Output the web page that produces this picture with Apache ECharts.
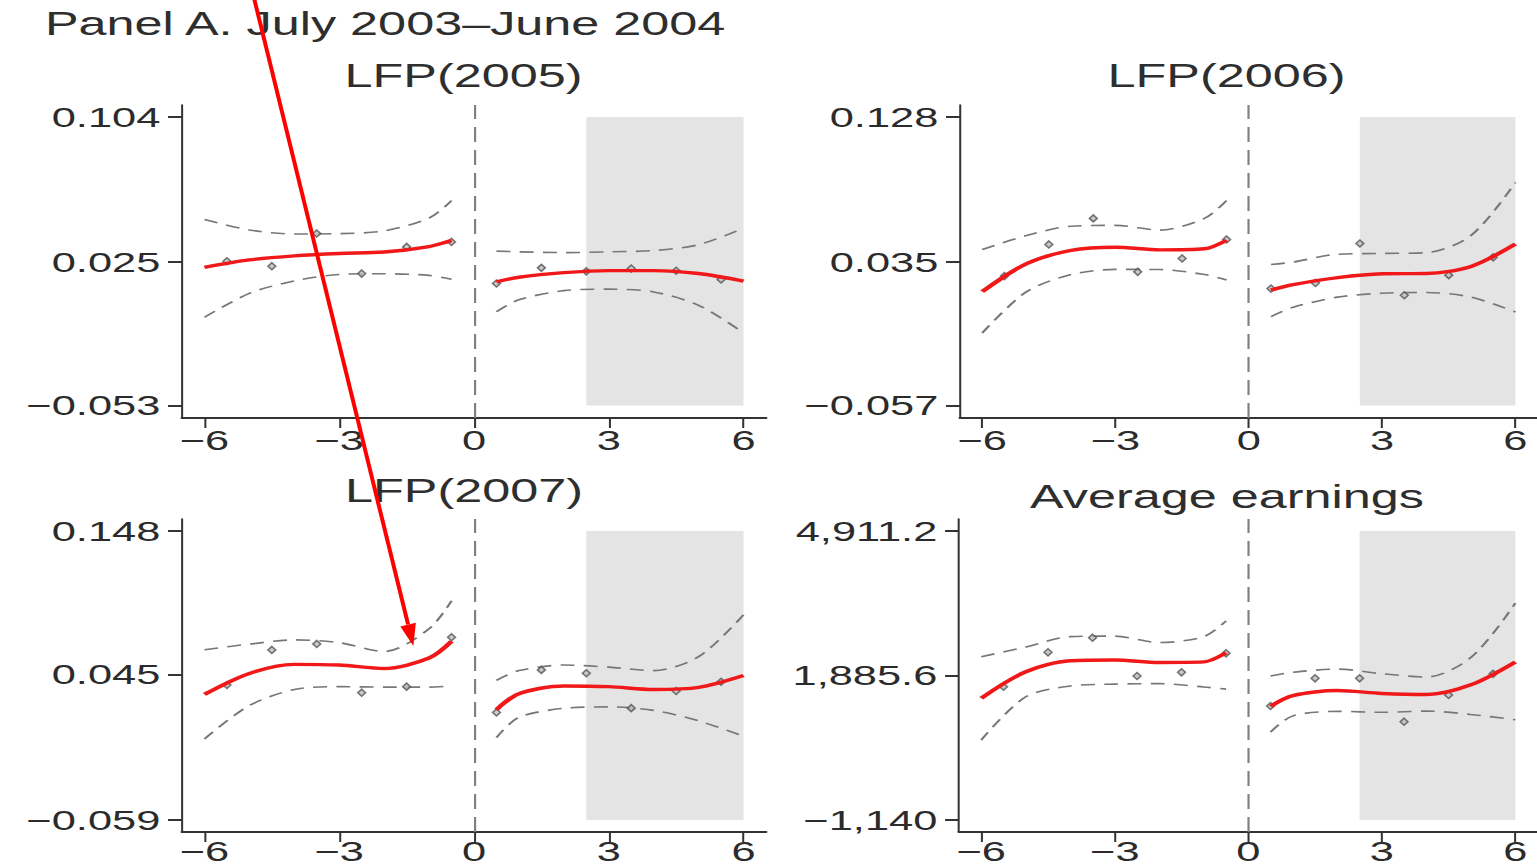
<!DOCTYPE html>
<html><head><meta charset="utf-8">
<script src="https://cdn.jsdelivr.net/npm/echarts@6/dist/echarts.min.js"></script>
<style>
html,body{margin:0;padding:0;background:#fff;overflow:hidden;width:1537px;height:868px;}
#c{width:992px;height:868px;transform:scaleX(1.55);transform-origin:0 0;}
</style></head><body><div id="c"></div>
<script>
// ---------------- data ----------------
const figureTitle = 'Panel A. July 2003\u2013June 2004';
const panelNames = ['LFP(2005)', 'LFP(2006)', 'LFP(2007)', 'Average earnings'];

const xTicks = [-6, -3, 0, 3, 6];
const xTickLabels = ['\u22126', '\u22123', '0', '3', '6'];
const xFitLeft = [-6, -5, -4, -3, -2, -1, -0.5];
const xFitRight = [0.5, 1, 2, 3, 4, 5, 6];
const xBins = [-5.5, -4.5, -3.5, -2.5, -1.5, -0.5, 0.5, 1.5, 2.5, 3.5, 4.5, 5.5];
const shadeFrom = 2.5, shadeTo = 6;

// Panel 1: LFP(2005)
const p1YTicks = [-0.053, 0.025, 0.104];
const p1YTickLabels = ['\u22120.053', '0.025', '0.104'];
const p1FitLeft  = [0.0222, 0.0262, 0.0284, 0.0297, 0.0305, 0.0335, 0.0368];
const p1UpLeft   = [0.0482, 0.0425, 0.0403, 0.0405, 0.0420, 0.0490, 0.0585];
const p1LoLeft   = [-0.0050, 0.0080, 0.0148, 0.0183, 0.0187, 0.0178, 0.0157];
const p1FitRight = [0.0143, 0.0168, 0.0193, 0.0204, 0.0204, 0.0188, 0.0147];
const p1UpRight  = [0.0310, 0.0306, 0.0302, 0.0306, 0.0313, 0.0345, 0.0435];
const p1LoRight  = [-0.0020, 0.0045, 0.0095, 0.0103, 0.0088, 0.0015, -0.0135];
const p1Bins     = [0.0255, 0.0228, 0.0406, 0.0188, 0.0333, 0.0360, 0.0134, 0.0219, 0.0200, 0.0215, 0.0203, 0.0156];

// Panel 2: LFP(2006)
const p2YTicks = [-0.057, 0.035, 0.128];
const p2YTickLabels = ['\u22120.057', '0.035', '0.128'];
const p2FitLeft  = [0.0160, 0.0340, 0.0425, 0.0445, 0.0428, 0.0435, 0.0490];
const p2UpLeft   = [0.0430, 0.0520, 0.0580, 0.0585, 0.0555, 0.0630, 0.0745];
const p2LoLeft   = [-0.0105, 0.0160, 0.0270, 0.0303, 0.0302, 0.0270, 0.0235];
const p2FitRight = [0.0170, 0.0205, 0.0250, 0.0275, 0.0277, 0.0322, 0.0465];
const p2UpRight  = [0.0334, 0.0350, 0.0400, 0.0405, 0.0410, 0.0520, 0.0860];
const p2LoRight  = [0.0000, 0.0060, 0.0125, 0.0150, 0.0155, 0.0125, 0.0030];
const p2Bins     = [0.0260, 0.0463, 0.0630, 0.0287, 0.0373, 0.0495, 0.0180, 0.0216, 0.0469, 0.0137, 0.0266, 0.0380];

// Panel 3: LFP(2007)
const p3YTicks = [-0.059, 0.045, 0.148];
const p3YTickLabels = ['\u22120.059', '0.045', '0.148'];
const p3FitLeft  = [0.0310, 0.0460, 0.0525, 0.0520, 0.0495, 0.0570, 0.0690];
const p3UpLeft   = [0.0630, 0.0670, 0.0700, 0.0680, 0.0617, 0.0780, 0.0980];
const p3LoLeft   = [-0.0010, 0.0230, 0.0345, 0.0365, 0.0362, 0.0362, 0.0370];
const p3FitRight = [0.0200, 0.0315, 0.0370, 0.0365, 0.0345, 0.0360, 0.0445];
const p3UpRight  = [0.0410, 0.0480, 0.0520, 0.0505, 0.0480, 0.0580, 0.0880];
const p3LoRight  = [0.0000, 0.0145, 0.0210, 0.0220, 0.0195, 0.0120, 0.0010];
const p3Bins     = [0.0377, 0.0628, 0.0671, 0.0322, 0.0365, 0.0719, 0.0180, 0.0485, 0.0461, 0.0211, 0.0334, 0.0400];

// Panel 4: Average earnings
const p4YTicks = [-1140, 1885.6, 4911.2];
const p4YTickLabels = ['\u22121,140', '1,885.6', '4,911.2'];
const p4FitLeft  = [1410, 1965, 2195, 2210, 2158, 2170, 2360];
const p4UpLeft   = [2280, 2480, 2700, 2710, 2575, 2700, 3030];
const p4LoLeft   = [535, 1440, 1665, 1705, 1715, 1645, 1600];
const p4FitRight = [1240, 1465, 1570, 1510, 1488, 1690, 2170];
const p4UpRight  = [1875, 1952, 2020, 1922, 1854, 2260, 3400];
const p4LoRight  = [700, 1040, 1135, 1115, 1140, 1070, 960];
const p4Bins     = [1650, 2371, 2677, 1875, 1952, 2350, 1247, 1827, 1827, 918, 1477, 1920];

// arrow annotation target (panel 3, data coords)
const arrowTarget = [-1.35, 0.0657];

// ---------------- layout / style ----------------
const SX = 1.55;                 // horizontal stretch applied by CSS
const FONT = "'Liberation Sans', Arial, Helvetica, sans-serif";
const panels = [
  {ticks: p1YTicks, labels: p1YTickLabels, fl: p1FitLeft, ul: p1UpLeft, ll: p1LoLeft, fr: p1FitRight, ur: p1UpRight, lr: p1LoRight, bins: p1Bins,
   min: -0.0598, max: 0.1105, left: 182, width: 584, top: 105, height: 313, titleX: 463.5, titleY: 76, labMargin: 8},
  {ticks: p2YTicks, labels: p2YTickLabels, fl: p2FitLeft, ul: p2UpLeft, ll: p2LoLeft, fr: p2FitRight, ur: p2UpRight, lr: p2LoRight, bins: p2Bins,
   min: -0.0650, max: 0.1357, left: 960, width: 583, top: 105, height: 313, titleX: 1226.5, titleY: 76, labMargin: 8},
  {ticks: p3YTicks, labels: p3YTickLabels, fl: p3FitLeft, ul: p3UpLeft, ll: p3LoLeft, fr: p3FitRight, ur: p3UpRight, lr: p3LoRight, bins: p3Bins,
   min: -0.0676, max: 0.1566, left: 182, width: 584, top: 519, height: 313, titleX: 464, titleY: 491, labMargin: 5},
  {ticks: p4YTicks, labels: p4YTickLabels, fl: p4FitLeft, ul: p4UpLeft, ll: p4LoLeft, fr: p4FitRight, ur: p4UpRight, lr: p4LoRight, bins: p4Bins,
   min: -1391, max: 5162, left: 959, width: 583, top: 519, height: 313, titleX: 1227, titleY: 497, labMargin: 5}
];

function pairs(xs, ys) { return xs.map((x, k) => [x, ys[k]]); }
function labelFor(vals, labs, v) {
  for (let k = 0; k < vals.length; k++) if (Math.abs(vals[k] - v) < 1e-9 * Math.max(1, Math.abs(v))) return labs[k];
  return '';
}

const grids = [], xAxes = [], yAxes = [], series = [], graphics = [];
const redStyle = {color: '#f01818', width: 3.4};
const ciStyle = {color: '#777777', width: 1.6, type: [9, 6]};

graphics.push({type: 'text', x: 45 / SX, y: 24, silent: true,
  style: {text: figureTitle, fontSize: 32.5, fontFamily: FONT, fill: '#2e2e2e',
          align: 'left', verticalAlign: 'middle', textAlign: 'left', textVerticalAlign: 'middle'}});

panels.forEach((p, i) => {
  grids.push({left: p.left / SX, top: p.top, width: p.width / SX, height: p.height, containLabel: false});
  xAxes.push({type: 'value', gridIndex: i, min: -6.5, max: 6.5,
    axisLine: {show: true, onZero: false, lineStyle: {color: '#333', width: 2}},
    axisTick: {show: true, customValues: xTicks, length: 10, lineStyle: {color: '#333', width: 1.3}},
    axisLabel: {show: true, customValues: xTicks, formatter: v => labelFor(xTicks, xTickLabels, v),
      fontSize: 28, fontFamily: FONT, color: '#2b2b2b', margin: p.labMargin},
    splitLine: {show: false}});
  yAxes.push({type: 'value', gridIndex: i, min: p.min, max: p.max,
    axisLine: {show: true, onZero: false, lineStyle: {color: '#333', width: 1.3}},
    axisTick: {show: true, customValues: p.ticks, length: 9, lineStyle: {color: '#333', width: 2}},
    axisLabel: {show: true, customValues: p.ticks, formatter: v => labelFor(p.ticks, p.labels, v),
      fontSize: 28, fontFamily: FONT, color: '#2b2b2b', margin: 14},
    splitLine: {show: false}});

  const base = {xAxisIndex: i, yAxisIndex: i, silent: true, animation: false};
  // scatter (binned means) + shading + zero line
  series.push(Object.assign({}, base, {type: 'scatter', z: 3,
    data: pairs(xBins, p.bins), symbol: 'diamond', symbolSize: [5, 7],
    itemStyle: {color: '#bdbdbd', borderColor: '#555555', borderWidth: 1.3},
    markArea: {silent: true, itemStyle: {color: '#e4e4e4'},
      data: [[{xAxis: shadeFrom, yAxis: p.ticks[2]}, {xAxis: shadeTo, yAxis: p.ticks[0]}]]},
    markLine: {silent: true, symbol: ['none', 'none'], label: {show: false},
      lineStyle: {color: '#808080', width: 1.4, type: [15, 8]}, data: [{xAxis: 0}]}}));
  [[xFitLeft, p.ul], [xFitLeft, p.ll], [xFitRight, p.ur], [xFitRight, p.lr]].forEach(([xs, ys]) => {
    series.push(Object.assign({}, base, {type: 'line', z: 2, data: pairs(xs, ys), showSymbol: false, symbol: 'none',
      smooth: 0.3, lineStyle: ciStyle}));
  });
  [[xFitLeft, p.fl], [xFitRight, p.fr]].forEach(([xs, ys]) => {
    series.push(Object.assign({}, base, {type: 'line', z: 4, data: pairs(xs, ys), showSymbol: false, symbol: 'none',
      smooth: 0.3, lineStyle: redStyle}));
  });
  graphics.push({type: 'text', x: p.titleX / SX, y: p.titleY, silent: true,
    style: {text: panelNames[i], fontSize: 32.5, fontFamily: FONT, fill: '#2e2e2e',
            align: 'center', verticalAlign: 'middle', textAlign: 'center', textVerticalAlign: 'middle'}});
});

const chart = echarts.init(document.getElementById('c'), null, {renderer: 'svg'});
chart.setOption({animation: false, backgroundColor: '#fff', grid: grids, xAxis: xAxes, yAxis: yAxes, series: series, graphic: graphics});

// red arrow annotation pointing at panel 3
const tip = chart.convertToPixel({gridIndex: 2}, arrowTarget);
const T = [tip[0] * SX, tip[1]], P0 = [254, -2];
let dx = T[0] - P0[0], dy = T[1] - P0[1];
const len = Math.hypot(dx, dy); dx /= len; dy /= len;
const HL = 22, HW = 8;
const B = [T[0] - dx * HL, T[1] - dy * HL];
const n = [-dy, dx];
const toPre = q => [q[0] / SX, q[1]];
graphics.push({type: 'line', silent: true, z: 100,
  shape: {x1: P0[0] / SX, y1: P0[1], x2: B[0] / SX, y2: B[1]},
  style: {stroke: '#ff0000', lineWidth: 2.6}});
graphics.push({type: 'polygon', silent: true, z: 100,
  shape: {points: [toPre(T), toPre([B[0] + n[0] * HW, B[1] + n[1] * HW]), toPre([B[0] - n[0] * HW, B[1] - n[1] * HW])]},
  style: {fill: '#ff0000'}});
chart.setOption({graphic: graphics});
</script></body></html>
